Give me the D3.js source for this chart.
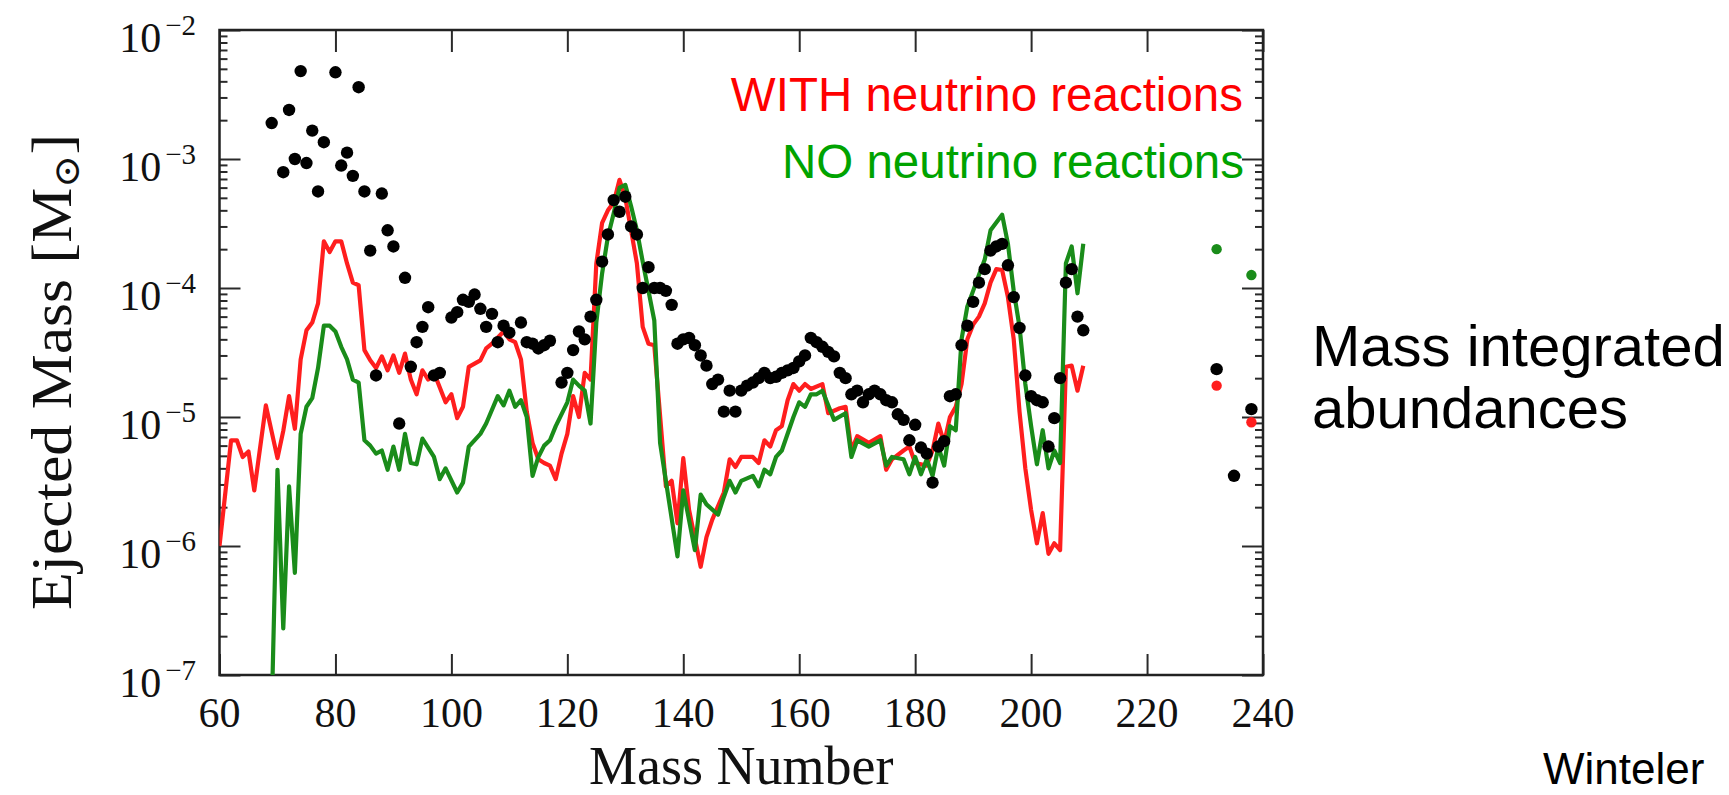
<!DOCTYPE html>
<html>
<head>
<meta charset="utf-8">
<script src="https://cdn.jsdelivr.net/npm/d3@7"></script>
<style>
  body { margin: 0; background: #fff; }
  svg { display: block; }
</style>
</head>
<body>
<script>
// ---- data (mass number, ejected mass in solar masses) ----
const withNu = [
  [60,1.0e-6],[62,6.6e-6],[63,6.6e-6],[64,4.9e-6],[65,5.4e-6],[66,2.7e-6],[68,1.23e-5],[70,4.8e-6],
  [71,7.8e-6],[72,1.45e-5],[73,8.1e-6],[74,2.8e-5],[75,4.7e-5],[76,5.4e-5],[77,7.6e-5],[78,2.3e-4],
  [79,1.9e-4],[80,2.3e-4],[81,2.3e-4],[82,1.55e-4],[83,1.1e-4],[84,1.05e-4],[85,3.3e-5],[86,2.75e-5],
  [87,2.4e-5],[88,2.95e-5],[89,2.3e-5],[90,3.0e-5],[91,2.2e-5],[92,3.1e-5],[93,1.95e-5],[94,1.5e-5],
  [95,2.3e-5],[96,1.95e-5],[97,2.2e-5],[99,1.3e-5],[100,1.5e-5],[101,9.8e-6],[102,1.2e-5],[103,2.45e-5],
  [105,2.75e-5],[106,3.4e-5],[107,3.7e-5],[109,4.6e-5],[110,4.0e-5],[111,3.8e-5],[112,2.8e-5],[113,1.1e-5],
  [114,6.3e-6],[115,4.7e-6],[116,4.4e-6],[117,4.2e-6],[118,3.3e-6],[119,5.2e-6],[120,7.4e-6],[121,1.45e-5],
  [122,1.0e-5],[123,2.2e-5],[124,1.95e-5],[125,1.55e-4],[126,3.2e-4],[127,4.0e-4],[128,4.6e-4],[129,6.9e-4],
  [130,5.0e-4],[131,2.8e-4],[132,1.55e-4],[133,5.0e-5],[134,3.7e-5],[135,3.6e-5],[137,2.9e-6],[138,3.2e-6],
  [139,1.5e-6],[140,4.8e-6],[141,1.9e-6],[143,6.9e-7],[144,1.17e-6],[145,1.6e-6],[147,2.6e-6],[148,4.7e-6],
  [149,4.1e-6],[150,4.9e-6],[152,4.9e-6],[153,4.4e-6],[154,6.6e-6],[155,5.9e-6],[156,7.9e-6],[157,8.5e-6],
  [158,1.35e-5],[159,1.8e-5],[160,1.6e-5],[161,1.8e-5],[162,1.65e-5],[164,1.8e-5],[165,1.07e-5],[167,1.17e-5],
  [168,1.2e-5],[169,5.5e-6],[170,7.1e-6],[172,6.3e-6],[174,7.1e-6],[175,3.9e-6],[176,4.7e-6],[178,5.5e-6],
  [179,5.9e-6],[180,4.4e-6],[182,4.2e-6],[183,5.5e-6],[184,8.9e-6],[185,6.3e-6],[186,1.0e-5],[187,1.2e-5],
  [188,1.8e-5],[189,4.0e-5],[190,5.2e-5],[191,6.0e-5],[192,7.6e-5],[193,1.1e-4],[194,1.4e-4],[195,1.38e-4],
  [196,8.5e-5],[197,4.0e-5],[198,1.1e-5],[199,4.0e-6],[200,1.9e-6],[201,1.05e-6],[202,1.8e-6],[203,8.7e-7],
  [204,1.05e-6],[205,9.3e-7],[206,2.45e-5],[207,2.5e-5],[208,1.6e-5],[209,2.5e-5]
];

const noNu = [
  [69,5e-8],[70,3.9e-6],[71,2.3e-7],[72,2.9e-6],[73,6.2e-7],[74,7.4e-6],[75,1.2e-5],[76,1.4e-5],
  [77,2.4e-5],[78,5.1e-5],[79,5.1e-5],[80,4.6e-5],[81,3.5e-5],[82,2.8e-5],[83,1.95e-5],[84,1.85e-5],
  [85,6.6e-6],[86,6.0e-6],[87,5.2e-6],[88,5.5e-6],[89,3.9e-6],[90,5.9e-6],[91,3.9e-6],[92,7.4e-6],
  [93,4.4e-6],[94,4.3e-6],[95,6.8e-6],[97,4.9e-6],[98,3.3e-6],[99,4.0e-6],[101,2.6e-6],[102,3.1e-6],
  [103,5.9e-6],[105,7.4e-6],[106,8.9e-6],[108,1.45e-5],[109,1.23e-5],[110,1.6e-5],[111,1.2e-5],[112,1.35e-5],
  [113,1.0e-5],[114,3.5e-6],[115,4.9e-6],[116,6.0e-6],[117,6.6e-6],[118,8.5e-6],[120,1.3e-5],[121,1.95e-5],
  [122,1.75e-5],[123,1.6e-5],[124,8.9e-6],[125,5.4e-5],[126,1.3e-4],[127,2.5e-4],[128,3.8e-4],[129,6.0e-4],
  [130,6.3e-4],[131,4.3e-4],[132,2.8e-4],[133,1.6e-4],[134,9.5e-5],[135,5.6e-5],[136,6.3e-6],[137,3.2e-6],
  [139,8.3e-7],[140,2.7e-6],[142,9.3e-7],[143,2.5e-6],[144,2.1e-6],[146,1.75e-6],[147,2.4e-6],[148,3.2e-6],
  [149,2.6e-6],[150,3.2e-6],[152,3.5e-6],[153,2.9e-6],[154,3.9e-6],[155,3.6e-6],[156,4.9e-6],[157,5.5e-6],
  [159,1.0e-5],[160,1.3e-5],[161,1.2e-5],[162,1.5e-5],[163,1.5e-5],[164,1.6e-5],[166,9.5e-6],[168,1.07e-5],
  [169,4.9e-6],[170,6.6e-6],[172,5.9e-6],[174,6.6e-6],[175,4.2e-6],[176,4.9e-6],[178,4.7e-6],[179,3.6e-6],
  [180,4.9e-6],[181,3.6e-6],[182,4.7e-6],[183,3.5e-6],[184,5.9e-6],[185,4.2e-6],[186,8.5e-6],[187,7.9e-6],
  [188,4.0e-5],[189,7.2e-5],[190,9.5e-5],[191,1.26e-4],[192,1.66e-4],[193,2.8e-4],[195,3.7e-4],[196,2.2e-4],
  [197,9.5e-5],[198,5.0e-5],[199,1.8e-5],[200,8.5e-6],[201,4.3e-6],[202,7.9e-6],[203,4.0e-6],[204,5.5e-6],
  [205,4.4e-6],[206,1.55e-4],[207,2.1e-4],[208,9.1e-5],[209,2.2e-4]
];

const solar = [
  [69,1.9e-3],[71,7.9e-4],[72,2.4e-3],[73,1.0e-3],[74,4.8e-3],[75,9.3e-4],[76,1.66e-3],[77,5.6e-4],
  [78,1.35e-3],[80,4.7e-3],[81,8.9e-4],[82,1.12e-3],[83,7.4e-4],[84,3.6e-3],[85,5.6e-4],[86,1.95e-4],
  [87,2.1e-5],[88,5.4e-4],[89,2.8e-4],[90,2.1e-4],[91,8.9e-6],[92,1.2e-4],[93,2.45e-5],[94,3.8e-5],
  [95,5.0e-5],[96,7.1e-5],[97,2.1e-5],[98,2.2e-5],[100,5.9e-5],[101,6.5e-5],[102,8.1e-5],[103,7.8e-5],
  [104,8.9e-5],[105,6.9e-5],[106,5.0e-5],[107,6.3e-5],[108,3.8e-5],[109,5.1e-5],[110,4.5e-5],[112,5.4e-5],
  [113,3.8e-5],[114,3.7e-5],[115,3.4e-5],[116,3.6e-5],[117,3.9e-5],[119,1.85e-5],[120,2.2e-5],[121,3.3e-5],
  [122,4.6e-5],[123,4.0e-5],[124,6.0e-5],[125,8.1e-5],[126,1.6e-4],[127,2.6e-4],[128,4.8e-4],[129,3.9e-4],
  [130,5.1e-4],[131,3.0e-4],[132,2.6e-4],[133,1.0e-4],[134,1.45e-4],[135,1.0e-4],[136,1.0e-4],[137,9.5e-5],
  [138,7.4e-5],[139,3.7e-5],[140,4.0e-5],[141,4.1e-5],[142,3.6e-5],[143,3.0e-5],[144,2.5e-5],[145,1.8e-5],
  [146,1.95e-5],[147,1.1e-5],[148,1.6e-5],[149,1.1e-5],[150,1.6e-5],[151,1.75e-5],[152,1.85e-5],[153,2.0e-5],
  [154,2.2e-5],[155,2.0e-5],[156,2.05e-5],[157,2.2e-5],[158,2.3e-5],[159,2.4e-5],[160,2.7e-5],[161,3.0e-5],
  [162,4.1e-5],[163,3.8e-5],[164,3.5e-5],[165,3.2e-5],[166,2.95e-5],[167,2.2e-5],[168,2.0e-5],[169,1.5e-5],
  [170,1.6e-5],[171,1.3e-5],[172,1.5e-5],[173,1.6e-5],[174,1.5e-5],[175,1.35e-5],[176,1.3e-5],[177,1.05e-5],
  [178,9.5e-6],[179,6.6e-6],[180,8.7e-6],[181,5.8e-6],[182,5.2e-6],[183,3.1e-6],[184,5.9e-6],[185,6.5e-6],
  [186,1.45e-5],[187,1.5e-5],[188,3.6e-5],[189,5.1e-5],[190,7.8e-5],[191,1.1e-4],[192,1.4e-4],[193,1.95e-4],
  [194,2.1e-4],[195,2.2e-4],[196,1.5e-4],[197,8.5e-5],[198,4.9e-5],[199,2.1e-5],[200,1.45e-5],[201,1.35e-5],
  [202,1.3e-5],[203,5.9e-6],[204,9.8e-6],[205,2.0e-5],[206,1.1e-4],[207,1.4e-4],[208,6.0e-5],[209,4.7e-5],
  [232,2.35e-5],[235,3.5e-6],[238,1.15e-5]
];

// actinides, drawn as single points
const actinidesWith = [[232,1.75e-5],[238,9.1e-6]];
const actinidesNo = [[232,2.0e-4],[238,1.26e-4]];

const xTickValues = [60,80,100,120,140,160,180,200,220,240];
const yExponents = [-7,-6,-5,-4,-3,-2];

// ---- layout ----
const width = 1729;
const height = 795;
const plotLeft = 219.5, plotRight = 1263, plotTop = 30, plotBottom = 675;

const RED = '#ff1e1e';
const GREEN = '#1a8c1a';

const serif = '"Liberation Serif", "DejaVu Serif", serif';
const sans = '"Liberation Sans", Arial, sans-serif';

const svg = d3.select('body')
  .append('svg')
  .attr('width', width)
  .attr('height', height);

const x = d3.scaleLinear().domain([60, 240]).range([plotLeft, plotRight]);
const y = d3.scaleLog().domain([1e-7, 1e-2]).range([plotBottom, plotTop]);

svg.append('defs').append('clipPath')
  .attr('id', 'plotclip')
  .append('rect')
  .attr('x', plotLeft).attr('y', plotTop)
  .attr('width', plotRight - plotLeft)
  .attr('height', plotBottom - plotTop);

// ---- axes (ticks point inwards) ----
const majorY = yExponents.map(e => Math.pow(10, e));
const minorY = [];
yExponents.slice(0, -1).forEach(e => {
  for (let m = 2; m <= 9; m++) minorY.push(m * Math.pow(10, e));
});

function styleAxis(g) {
  g.select('.domain').remove();
  g.selectAll('.tick line').attr('stroke', '#2a2a2a').attr('stroke-width', 2);
  g.selectAll('.tick text').remove();
}

svg.append('g')
  .attr('transform', `translate(0,${plotBottom})`)
  .call(d3.axisBottom(x).tickValues(xTickValues).tickSize(-21))
  .call(styleAxis);

svg.append('g')
  .attr('transform', `translate(0,${plotTop})`)
  .call(d3.axisTop(x).tickValues(xTickValues).tickSize(-22))
  .call(styleAxis);

[[d3.axisLeft, plotLeft], [d3.axisRight, plotRight]].forEach(([axis, pos]) => {
  svg.append('g')
    .attr('transform', `translate(${pos},0)`)
    .call(axis(y).tickValues(majorY).tickSize(-21))
    .call(styleAxis);
  svg.append('g')
    .attr('transform', `translate(${pos},0)`)
    .call(axis(y).tickValues(minorY).tickSize(-8))
    .call(styleAxis);
});

// frame
svg.append('rect')
  .attr('x', plotLeft).attr('y', plotTop)
  .attr('width', plotRight - plotLeft)
  .attr('height', plotBottom - plotTop)
  .attr('fill', 'none')
  .attr('stroke', '#222')
  .attr('stroke-width', 2.5);

// tick labels
svg.append('g').selectAll('text')
  .data(xTickValues)
  .enter().append('text')
  .attr('x', d => x(d))
  .attr('y', plotBottom + 51.7)
  .attr('text-anchor', 'middle')
  .style('font-family', serif)
  .style('font-size', '42px')
  .attr('fill', '#111')
  .text(d => d);

const yLabels = svg.append('g').selectAll('text')
  .data(yExponents)
  .enter().append('text')
  .attr('x', 196)
  .attr('y', d => y(Math.pow(10, d)) + 21.7)
  .attr('text-anchor', 'end')
  .style('font-family', serif)
  .style('font-size', '42px')
  .attr('fill', '#111');
yLabels.append('tspan').text('10');
yLabels.append('tspan')
  .attr('dx', 4)
  .attr('dy', -16.7)
  .style('font-size', '29px')
  .text(d => '\u2212' + Math.abs(d));

// axis titles
svg.append('text')
  .attr('x', (plotLeft + plotRight) / 2)
  .attr('y', 784)
  .attr('text-anchor', 'middle')
  .style('font-family', serif)
  .style('font-size', '54px')
  .attr('fill', '#111')
  .text('Mass Number');

const yTitle = svg.append('text')
  .attr('transform', 'translate(71,372) rotate(-90)')
  .attr('text-anchor', 'middle')
  .attr('textLength', 476)
  .attr('lengthAdjust', 'spacingAndGlyphs')
  .style('font-family', serif)
  .style('font-size', '56px')
  .attr('fill', '#111');
yTitle.append('tspan').text('Ejected Mass [M');
yTitle.append('tspan')
  .attr('dy', 8)
  .style('font-size', '36px')
  .text('\u2299');
yTitle.append('tspan').attr('dy', -8).text(']');

// ---- data marks ----
const plotArea = svg.append('g').attr('clip-path', 'url(#plotclip)');

const line = d3.line()
  .x(d => x(d[0]))
  .y(d => y(d[1]));

renderLine(withNu, RED);
renderLine(noNu, GREEN);

function renderLine(data, color) {
  plotArea.append('path')
    .datum(data)
    .attr('fill', 'none')
    .attr('stroke', color)
    .attr('stroke-width', 4.2)
    .attr('stroke-linejoin', 'round')
    .attr('d', line);
}

renderDots(actinidesNo, GREEN, 5.2);
renderDots(actinidesWith, RED, 5.2);
renderDots(solar, '#000', 6.2);

function renderDots(data, color, r) {
  plotArea.append('g').selectAll('circle')
    .data(data)
    .enter().append('circle')
    .attr('cx', d => x(d[0]))
    .attr('cy', d => y(d[1]))
    .attr('r', r)
    .attr('fill', color);
}

// ---- legend and notes ----
svg.append('text')
  .attr('x', 1243).attr('y', 110.7)
  .attr('text-anchor', 'end')
  .style('font-family', sans)
  .style('font-size', '47.5px')
  .attr('fill', '#ff0000')
  .text('WITH neutrino reactions');

svg.append('text')
  .attr('x', 1244).attr('y', 178.3)
  .attr('text-anchor', 'end')
  .style('font-family', sans)
  .style('font-size', '47.5px')
  .attr('fill', '#00a300')
  .text('NO neutrino reactions');

svg.append('text')
  .attr('x', 1312).attr('y', 366)
  .style('font-family', sans)
  .style('font-size', '58px')
  .attr('fill', '#000')
  .text('Mass integrated');

svg.append('text')
  .attr('x', 1312).attr('y', 428)
  .style('font-family', sans)
  .style('font-size', '58px')
  .attr('fill', '#000')
  .text('abundances');

svg.append('text')
  .attr('x', 1543).attr('y', 784)
  .style('font-family', sans)
  .style('font-size', '44px')
  .attr('fill', '#000')
  .text('Winteler');
</script>
</body>
</html>
